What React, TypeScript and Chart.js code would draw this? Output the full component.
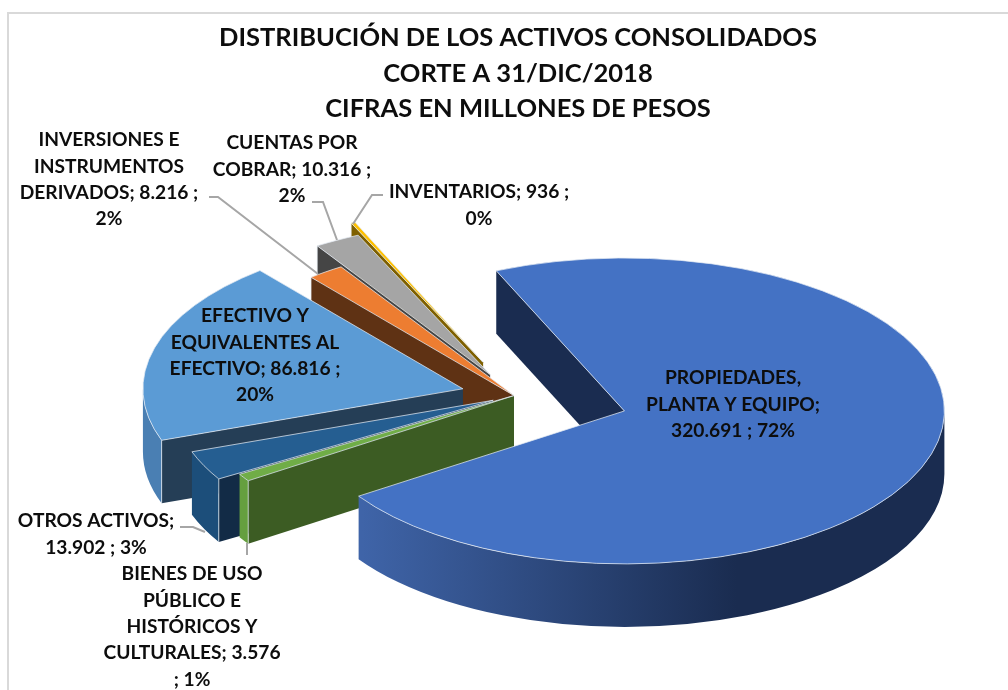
import React, { useEffect, useRef } from "react";
import { Chart, registerables } from "chart.js";

Chart.register(...registerables);

const categories = [
  "PROPIEDADES, PLANTA Y EQUIPO",
  "BIENES DE USO PÚBLICO E HISTÓRICOS Y CULTURALES",
  "OTROS ACTIVOS",
  "EFECTIVO Y EQUIVALENTES AL EFECTIVO",
  "INVERSIONES E INSTRUMENTOS DERIVADOS",
  "CUENTAS POR COBRAR",
  "INVENTARIOS",
];
const values = [320691, 3576, 13902, 86816, 8216, 10316, 936];
const topColors = ["#4472c4", "#70ad47", "#255e91", "#5b9bd5", "#ed7d31", "#a5a5a5", "#ffc000"];
const wallColors = ["#1a2c50", "#3c5c23", "#122b46", "#253e56", "#5f3214", "#454545", "#7f6000"];
const rimColors = ["#1a2c50", "#659f3f", "#1c4e7a", "#4a7fb3", "#a85a20", "#707070", "#b38600"];
const explosion = [115, 0, 23, 53, 0, 50, 76];
const titleLines = [
  "DISTRIBUCIÓN DE LOS ACTIVOS CONSOLIDADOS",
  "CORTE A 31/DIC/2018",
  "CIFRAS EN MILLONES DE PESOS",
];
const labelLines = [
  ["PROPIEDADES,", "PLANTA Y EQUIPO;", "320.691 ; 72%"],
  ["BIENES DE USO", "PÚBLICO E", "HISTÓRICOS Y", "CULTURALES; 3.576", "; 1%"],
  ["OTROS ACTIVOS;", "13.902 ; 3%"],
  ["EFECTIVO Y", "EQUIVALENTES AL", "EFECTIVO; 86.816 ;", "20%"],
  ["INVERSIONES E", "INSTRUMENTOS", "DERIVADOS; 8.216 ;", "2%"],
  ["CUENTAS POR", "COBRAR; 10.316 ;", "2%"],
  ["INVENTARIOS; 936 ;", "0%"],
];
const labelAnchors = [
  [733, 378], [192, 574], [96, 521], [255, 316], [109, 140], [292, 143], [479, 192],
];
const leaders = [
  [], [[247, 543], [247, 555]], [[180, 527], [193, 527], [205, 532]], [],
  [[209, 197], [218, 197], [318, 274]],
  [[312, 202], [323, 202], [337, 240]],
  [[383, 195], [372, 195], [353, 224]],
];

const TILT = 0.478;
const DEPTH = 63;
const RADIUS = 320;
const LINE = 26.4;
const FONT = "bold 19.2px Lato";
const PIE_NUDGE_X = -4;

const pie3d = {
  id: "pie3d",
  beforeDraw(chart: any) {
    const { ctx } = chart;
    ctx.save();
    ctx.fillStyle = "#d9d9d9";
    ctx.fillRect(7, 12, 1001, 2);
    ctx.fillRect(7, 12, 2, 678);
    ctx.restore();
  },
  beforeDatasetsDraw(chart: any) {
    const { ctx } = chart;
    const arcs = chart.getDatasetMeta(0).data;
    for (let i = arcs.length - 1; i >= 0; i--) {
      const arc = arcs[i];
      const mid = (arc.startAngle + arc.endAngle) / 2;
      const ox = arc.x + PIE_NUDGE_X + explosion[i] * Math.cos(mid);
      const oy = arc.y + explosion[i] * Math.sin(mid) * TILT;
      const r = arc.outerRadius;
      const d = DEPTH / TILT;

      ctx.save();
      ctx.translate(ox, oy);
      ctx.scale(1, TILT);
      // radial wall on the leading edge
      const sx = r * Math.cos(arc.startAngle);
      const sy = r * Math.sin(arc.startAngle);
      ctx.beginPath();
      ctx.moveTo(0, 0);
      ctx.lineTo(sx, sy);
      ctx.lineTo(sx, sy + d);
      ctx.lineTo(0, d);
      ctx.closePath();
      ctx.fillStyle = wallColors[i];
      ctx.fill();
      // outer rim where it faces the viewer
      const a0 = Math.max(arc.startAngle, 0);
      const a1 = Math.min(arc.endAngle, Math.PI);
      if (a1 > a0) {
        ctx.beginPath();
        ctx.arc(0, 0, r, a0, a1);
        ctx.arc(0, d, r, a1, a0, true);
        ctx.closePath();
        if (i === 0) {
          const g = ctx.createLinearGradient(-r * 0.82, 0, r * 0.35, 0);
          g.addColorStop(0, "#3f64a8");
          g.addColorStop(1, "#1a2c50");
          ctx.fillStyle = g;
        } else {
          ctx.fillStyle = rimColors[i];
        }
        ctx.fill();
      }
      ctx.restore();

      if (i !== 0) {
        ctx.save();
        ctx.strokeStyle = "rgba(235,240,245,0.75)";
        ctx.lineWidth = 1;
        const bx = ox + sx;
        const by = oy + sy * TILT;
        ctx.beginPath();
        ctx.moveTo(bx, by);
        ctx.lineTo(bx, by + DEPTH);
        ctx.stroke();
        ctx.restore();
      }

      // top face: the library's own arc element, seen at a tilt
      ctx.save();
      ctx.translate(ox, oy);
      ctx.scale(1, TILT);
      ctx.translate(-arc.x, -arc.y);
      arc.draw(ctx);
      ctx.restore();
    }

    ctx.save();
    ctx.strokeStyle = "#a6a6a6";
    ctx.lineWidth = 2;
    leaders.forEach((pts) => {
      if (!pts.length) return;
      ctx.beginPath();
      pts.forEach(([x, y], k) => (k ? ctx.lineTo(x, y) : ctx.moveTo(x, y)));
      ctx.stroke();
    });
    ctx.fillStyle = "#0d0d0d";
    ctx.font = FONT;
    ctx.textAlign = "center";
    ctx.textBaseline = "middle";
    labelLines.forEach((lines, i) => {
      lines.forEach((t, k) => ctx.fillText(t, labelAnchors[i][0], labelAnchors[i][1] + k * LINE));
    });
    ctx.restore();
    return false;
  },
};

export default function App() {
  const ref = useRef<HTMLCanvasElement>(null);
  useEffect(() => {
    document.body.style.margin = "0";
    document.body.style.overflow = "hidden";
    const chart = new Chart(ref.current!, {
      type: "pie",
      data: {
        labels: categories,
        datasets: [
          {
            data: values,
            backgroundColor: topColors,
            borderColor: "#e4eaf3",
            borderWidth: 1,
          },
        ],
      },
      options: {
        responsive: false,
        animation: false,
        events: [],
        rotation: -23.6,
        radius: RADIUS,
        layout: { padding: { left: 28, right: 0, top: 20, bottom: 26 } },
        plugins: {
          legend: { display: false },
          tooltip: { enabled: false },
          title: {
            display: true,
            text: titleLines,
            color: "#0d0d0d",
            font: { family: "Lato", weight: "bold", size: 25.5, lineHeight: 1.4 },
            padding: { top: 0, bottom: 0 },
          },
        },
      },
      plugins: [pie3d],
    } as any);
    return () => chart.destroy();
  }, []);
  return (
    <div style={{ position: "absolute", left: 0, top: 0, width: 1008, height: 690 }}>
      <canvas ref={ref} width={1008} height={690} style={{ display: "block" }} />
    </div>
  );
}
